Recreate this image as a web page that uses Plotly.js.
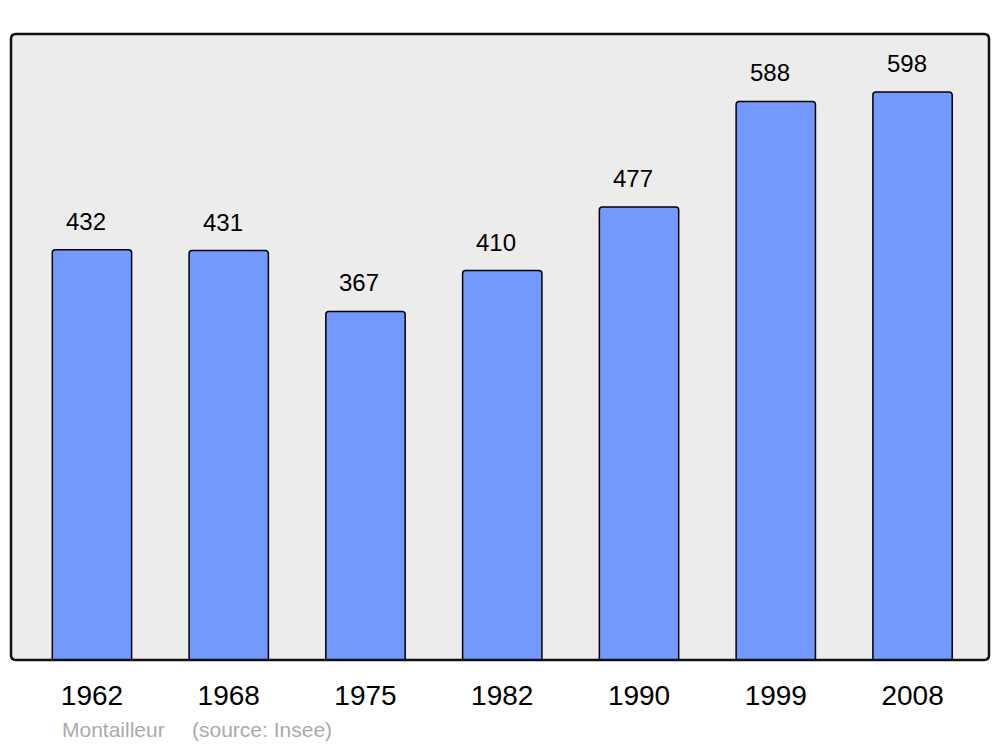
<!DOCTYPE html>
<html>
<head>
<meta charset="utf-8">
<script src="https://cdn.plot.ly/plotly-3.0.1.min.js"></script>
<style>html,body{margin:0;padding:0;background:#fff;}#chart{width:1000px;height:747px;}</style>
</head>
<body>
<div id="chart"></div>
<script>
const years = ["1962", "1968", "1975", "1982", "1990", "1999", "2008"];
const population = [432, 431, 367, 410, 477, 588, 598];
const commune = "Montailleur";
const sourceNote = "(source: Insee)";

const rx = 5 / 978, ry = 5 / 626;
const framePath = `M ${rx},0 L ${1 - rx},0 Q 1,0 1,${ry} L 1,${1 - ry} Q 1,1 ${1 - rx},1 L ${rx},1 Q 0,1 0,${1 - ry} L 0,${ry} Q 0,0 ${rx},0 Z`;

const valueLabels = years.map((y, i) => ({
  x: i, y: population[i], xref: 'x', yref: 'y',
  text: String(population[i]), showarrow: false,
  yanchor: 'bottom', yshift: 13, xshift: -6,
  font: {family: 'Liberation Sans, Arial, sans-serif', size: 24, color: '#000'}
}));

const layout = {
  width: 1000, height: 747,
  margin: {l: 11, r: 11, t: 34, b: 87},
  paper_bgcolor: '#ffffff',
  plot_bgcolor: '#ececec',
  showlegend: false,
  xaxis: {
    type: 'category', range: [-0.592, 6.559],
    showgrid: false, zeroline: false, showline: false, ticks: '',
    tickfont: {family: 'Liberation Sans, Arial, sans-serif', size: 28, color: '#000'},
    ticklabelstandoff: 16
  },
  yaxis: {range: [0, 659], showgrid: false, zeroline: false, showticklabels: false, ticks: '', showline: false},
  shapes: [{type: 'path', xref: 'paper', yref: 'paper', path: framePath,
            line: {color: '#111', width: 2.5}, fillcolor: 'rgba(0,0,0,0)', layer: 'above'}],
  annotations: valueLabels.concat([
    {x: (60 - 11) / 978, y: -0.1118, xref: 'paper', yref: 'paper', xanchor: 'left', yanchor: 'middle',
     text: commune, showarrow: false, font: {family: 'Liberation Sans, Arial, sans-serif', size: 21, color: '#aaaaaa'}},
    {x: (190 - 11) / 978, y: -0.1118, xref: 'paper', yref: 'paper', xanchor: 'left', yanchor: 'middle',
     text: sourceNote, showarrow: false, font: {family: 'Liberation Sans, Arial, sans-serif', size: 21, color: '#aaaaaa'}}
  ])
};

const trace = {
  type: 'bar', x: years, y: population, width: 0.58,
  marker: {color: '#7399ff', line: {color: '#000', width: 1.5}, cornerradius: 3},
  hoverinfo: 'skip'
};

Plotly.newPlot('chart', [trace], layout, {displayModeBar: false, staticPlot: true});
</script>
</body>
</html>
